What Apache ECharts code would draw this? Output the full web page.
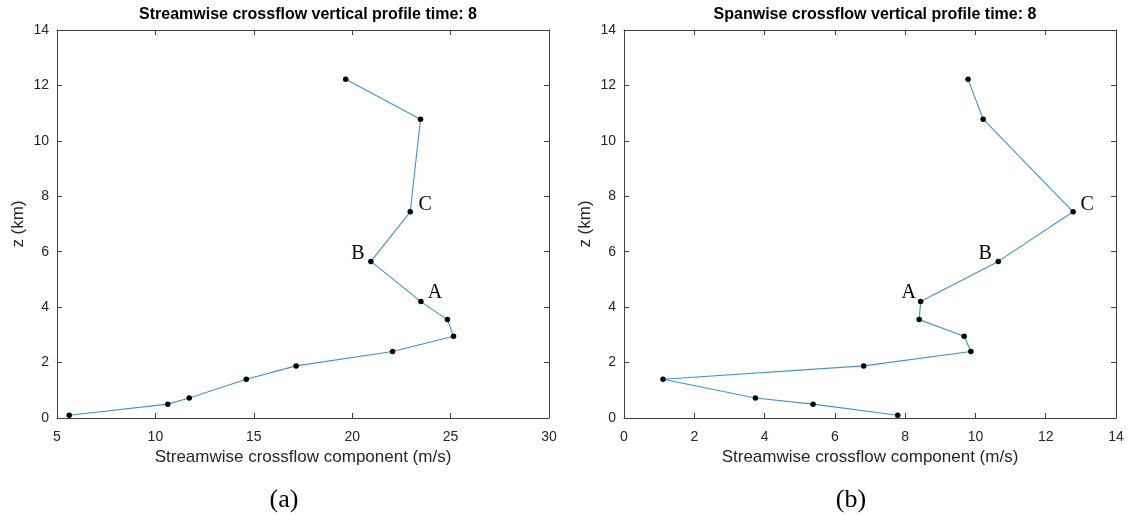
<!DOCTYPE html>
<html>
<head>
<meta charset="utf-8">
<script src="https://cdn.jsdelivr.net/npm/echarts@6/dist/echarts.min.js"></script>
<style>
  html, body { margin: 0; padding: 0; background: #fff; }
  #chart { width: 1128px; height: 515px; }
</style>
</head>
<body>
<div id="chart"></div>
<script>
// Heights of the profile levels (km)
const zKm = [0.10, 0.50, 0.72, 1.40, 1.88, 2.40, 2.95, 3.55, 4.20, 5.65, 7.44, 10.78, 12.22];
// Streamwise crossflow component at each level (m/s)
const streamwise = [5.62, 10.63, 11.72, 14.62, 17.15, 22.05, 25.15, 24.84, 23.49, 20.95, 22.95, 23.47, 19.67];
// Spanwise crossflow component at each level (m/s)
const spanwise = [7.79, 5.38, 3.74, 1.11, 6.82, 9.87, 9.68, 8.40, 8.44, 10.65, 12.78, 10.22, 9.79];
// Letters marking selected levels
const pointTags = ['', '', '', '', '', '', '', '', 'A', 'B', 'C', '', ''];

const titles = ['Streamwise crossflow vertical profile time: 8', 'Spanwise crossflow vertical profile time: 8'];
const xName = 'Streamwise crossflow component (m/s)';
const yName = 'z (km)';
const captions = ['(a)', '(b)'];

// Where each letter sits relative to its point, per panel
const tagOffsets = [
  { A: [14, -9], B: [-13, -8], C: [15, -7] },
  { A: [-12, -9], B: [-13, -8], C: [14, -7] }
];

const sans = 'Liberation Sans, Arial, sans-serif';
const serif = 'Liberation Serif, Times New Roman, serif';
const axisGray = '#404040';
const textGray = '#262626';

const grids = [
  { left: 57, right: 579, top: 30, bottom: 97, show: false },
  { left: 624, right: 12, top: 30, bottom: 97, show: false }
];
const panelCenters = [303, 870];

const xRanges = [{ min: 5, max: 30, interval: 5 }, { min: 0, max: 14, interval: 2 }];
const yRange = { min: 0, max: 14, interval: 2 };

function boxAxis(extra) {
  return Object.assign({
    type: 'value',
    axisLine: { show: true, onZero: false, lineStyle: { color: axisGray, width: 1 } },
    axisTick: { show: true, inside: true, length: 5, lineStyle: { color: axisGray } },
    splitLine: { show: false }
  }, extra);
}

const xAxes = [];
const yAxes = [];
[0, 1].forEach(function (g) {
  const xr = xRanges[g];
  xAxes.push(boxAxis({
    gridIndex: g, position: 'bottom',
    min: xr.min, max: xr.max, interval: xr.interval,
    name: xName, nameLocation: 'middle', nameGap: 31,
    nameTextStyle: { fontFamily: sans, fontSize: 17, color: textGray },
    axisLabel: { show: true, margin: 12, fontFamily: sans, fontSize: 14, color: textGray }
  }));
  xAxes.push(boxAxis({
    gridIndex: g, position: 'top',
    min: xr.min, max: xr.max, interval: xr.interval,
    axisLabel: { show: false }
  }));
  yAxes.push(boxAxis({
    gridIndex: g, position: 'left',
    min: yRange.min, max: yRange.max, interval: yRange.interval,
    name: yName, nameLocation: 'middle', nameGap: 30, nameRotate: 90,
    nameTextStyle: { fontFamily: sans, fontSize: 17, color: textGray },
    axisLabel: { show: true, margin: 8, fontFamily: sans, fontSize: 14, color: textGray }
  }));
  yAxes.push(boxAxis({
    gridIndex: g, position: 'right',
    min: yRange.min, max: yRange.max, interval: yRange.interval,
    axisLabel: { show: false }
  }));
});

function profileData(values, panel) {
  return values.map(function (v, i) {
    const item = { value: [v, zKm[i]] };
    const tag = pointTags[i];
    if (tag) {
      item.label = {
        show: true, formatter: tag, position: 'inside',
        offset: tagOffsets[panel][tag],
        fontFamily: serif, fontSize: 20, color: '#000'
      };
    }
    return item;
  });
}

const series = [streamwise, spanwise].map(function (vals, g) {
  return {
    type: 'line',
    xAxisIndex: g * 2, yAxisIndex: g * 2,
    data: profileData(vals, g),
    symbol: 'circle', symbolSize: 5.5,
    itemStyle: { color: '#000' },
    lineStyle: { color: '#4292cc', width: 1.1 },
    label: { show: false },
    animation: false,
    z: 3
  };
});

const titleOpts = titles.map(function (t, g) {
  return {
    text: t, left: panelCenters[g], top: 2, textAlign: 'center',
    textStyle: { fontFamily: sans, fontSize: 16, fontWeight: 'bold', color: '#000' }
  };
});

const graphics = captions.map(function (c, g) {
  return {
    type: 'text', x: panelCenters[g] - 19, y: 500,
    style: { text: c, font: '26px ' + serif, fill: '#000', textAlign: 'center', textVerticalAlign: 'middle' }
  };
});

const chart = echarts.init(document.getElementById('chart'), null, { renderer: 'canvas' });
chart.setOption({
  backgroundColor: '#fff',
  animation: false,
  title: titleOpts,
  grid: grids,
  xAxis: xAxes,
  yAxis: yAxes,
  series: series,
  graphic: graphics
});
</script>
</body>
</html>
